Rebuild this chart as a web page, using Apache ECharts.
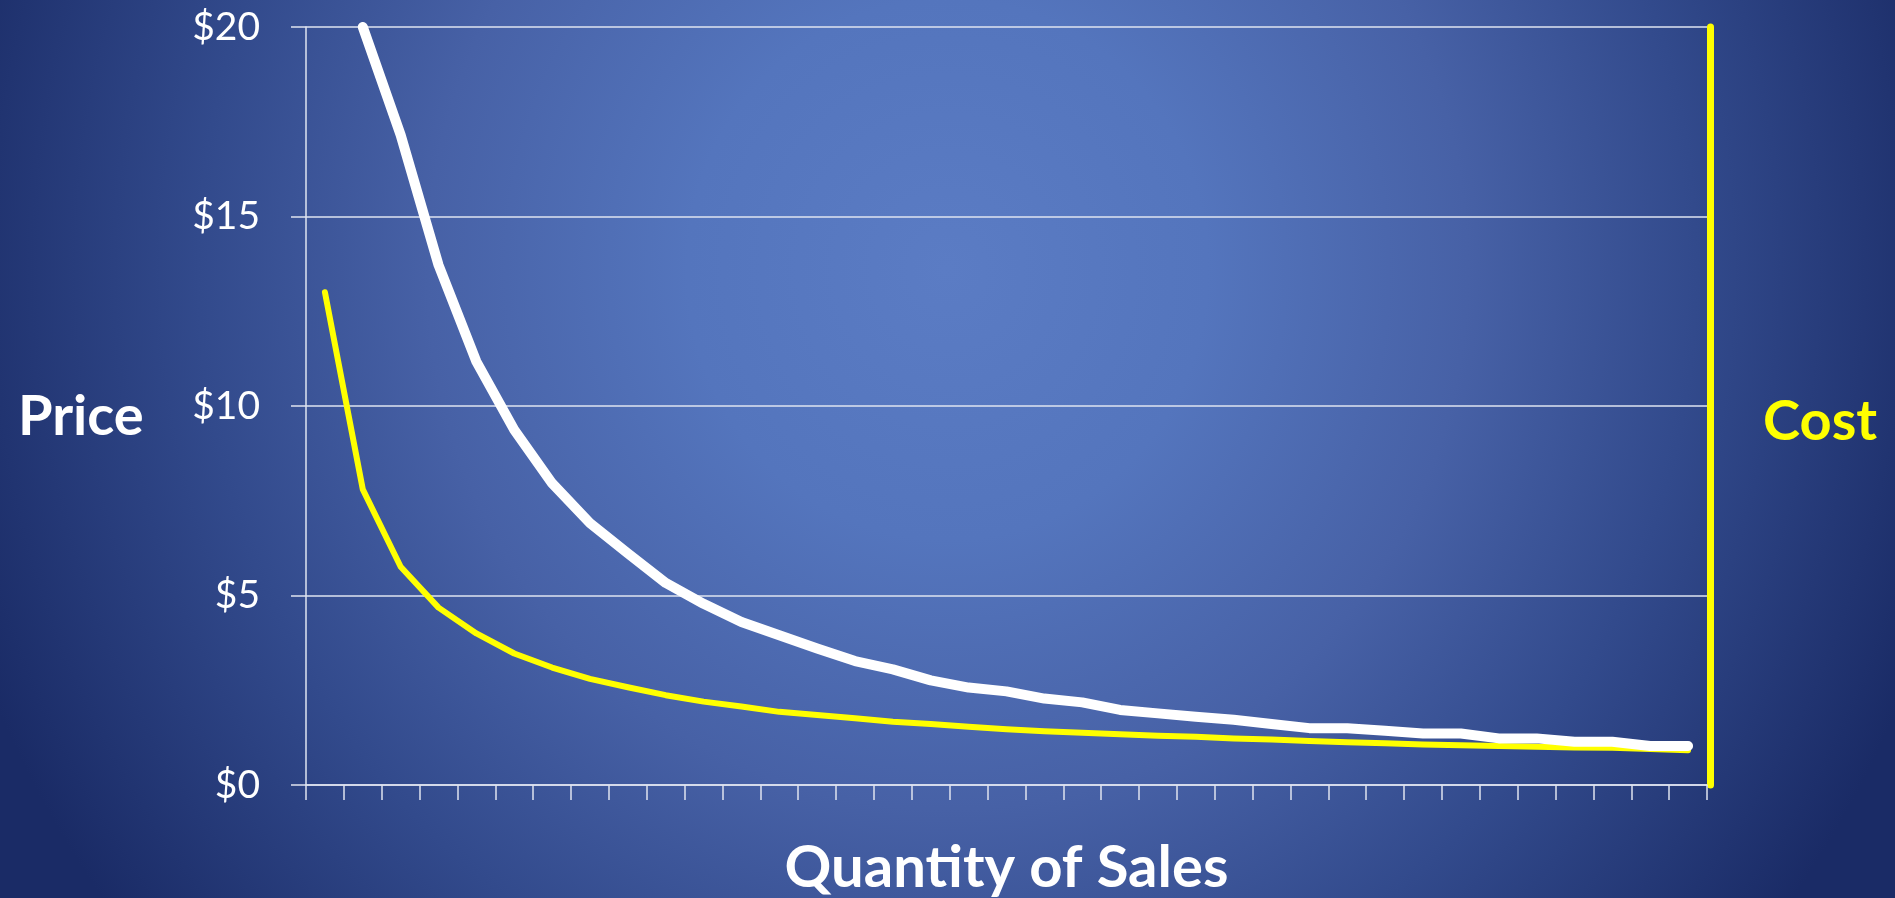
<!DOCTYPE html>
<html>
<head>
<meta charset="utf-8">
<script src="https://cdn.jsdelivr.net/npm/echarts@6/dist/echarts.min.js"></script>
<style>
  html, body { margin: 0; padding: 0; width: 1895px; height: 898px; overflow: hidden; }
  body {
    background: radial-gradient(ellipse 1040px 1080px at 50% 30%,
      #5b7cc4 0%, #5475bd 25%, #4761a6 50%, #324a8c 72%, #1a2b66 100%);
  }
  #chart { width: 1895px; height: 898px; }
</style>
</head>
<body>
<div id="chart"></div>
<script>
// Quantity steps along the horizontal axis
const quantities = ['1','2','3','4','5','6','7','8','9','10','11','12','13','14','15','16','17','18','19',
  '20','21','22','23','24','25','26','27','28','29','30','31','32','33','34','35','36','37'];

// Price per unit (white curve), dollars
const priceValues = [null, 20, 17.15, 13.72, 11.17, 9.37, 7.96, 6.91, 6.11, 5.33, 4.78, 4.3, 3.95,
  3.6, 3.27, 3.05, 2.76, 2.57, 2.47, 2.28, 2.18, 1.98, 1.89, 1.80, 1.72, 1.61, 1.50, 1.50,
  1.43, 1.36, 1.36, 1.23, 1.23, 1.14, 1.14, 1.03, 1.03];

// Cost per unit (yellow curve), dollars
const costValues = [13.0, 7.8, 5.76, 4.68, 4.0, 3.47, 3.1, 2.8, 2.58, 2.37, 2.2, 2.07, 1.93,
  1.85, 1.76, 1.67, 1.61, 1.54, 1.47, 1.42, 1.38, 1.34, 1.30, 1.27, 1.23, 1.20, 1.16, 1.13,
  1.10, 1.07, 1.05, 1.03, 1.01, 0.99, 0.98, 0.95, 0.92];

// Dollar axis range and step
const priceMin = 0;
const priceMax = 20;
const priceStep = 5;

const chart = echarts.init(document.getElementById('chart'), null, { renderer: 'canvas' });

const gridColor = '#dfe4f0';
const plotLeft = 306;
const plotRight = 188;
const plotCenterX = plotLeft + (1895 - plotLeft - plotRight) / 2;

chart.setOption({
  backgroundColor: 'transparent',
  animation: false,
  grid: { left: plotLeft, right: plotRight, top: 27, bottom: 113, containLabel: false },
  xAxis: {
    type: 'category',
    data: quantities,
    boundaryGap: true,
    axisLine: { show: true, lineStyle: { color: gridColor, width: 1.5 } },
    axisTick: { show: true, interval: 0, length: 15, alignWithLabel: false,
      lineStyle: { color: gridColor, width: 1.5 } },
    axisLabel: { show: false },
    splitLine: { show: false }
  },
  yAxis: [
    {
      type: 'value',
      min: priceMin, max: priceMax, interval: priceStep,
      axisLine: { show: true, lineStyle: { color: gridColor, width: 1.5 } },
      axisTick: { show: true, length: 15, lineStyle: { color: gridColor, width: 1.5 } },
      axisLabel: {
        show: true, margin: 46, color: '#ffffff',
        fontFamily: 'Lato', fontSize: 39,
        formatter: v => '$' + v
      },
      splitLine: { show: true, lineStyle: { color: gridColor, width: 1.5 } }
    },
    {
      type: 'value',
      position: 'right',
      min: priceMin, max: priceMax, interval: priceStep,
      offset: 3,
      axisLine: { show: true, lineStyle: { color: '#ffff00', width: 7 } },
      axisTick: { show: false },
      axisLabel: { show: false },
      splitLine: { show: false }
    }
  ],
  series: [
    {
      name: 'Cost',
      type: 'line',
      data: costValues,
      yAxisIndex: 0,
      symbol: 'none',
      smooth: false,
      lineStyle: { color: '#ffff00', width: 6, cap: 'round', join: 'round' },
      z: 3
    },
    {
      name: 'Price',
      type: 'line',
      data: priceValues,
      yAxisIndex: 0,
      symbol: 'none',
      smooth: false,
      lineStyle: { color: '#ffffff', width: 10, cap: 'round', join: 'round' },
      z: 4
    }
  ],
  graphic: [
    {
      type: 'text', left: 18, top: 389,
      style: { text: 'Price', fill: '#ffffff', font: 'bold 56px Lato' }
    },
    {
      type: 'text', left: 1763, top: 394,
      style: { text: 'Cost', fill: '#ffff00', font: 'bold 56px Lato' }
    },
    {
      type: 'text', x: plotCenterX, y: 839,
      style: { text: 'Quantity of Sales', fill: '#ffffff', font: 'bold 58px Lato',
        align: 'center', verticalAlign: 'top' }
    }
  ]
});
</script>
</body>
</html>
